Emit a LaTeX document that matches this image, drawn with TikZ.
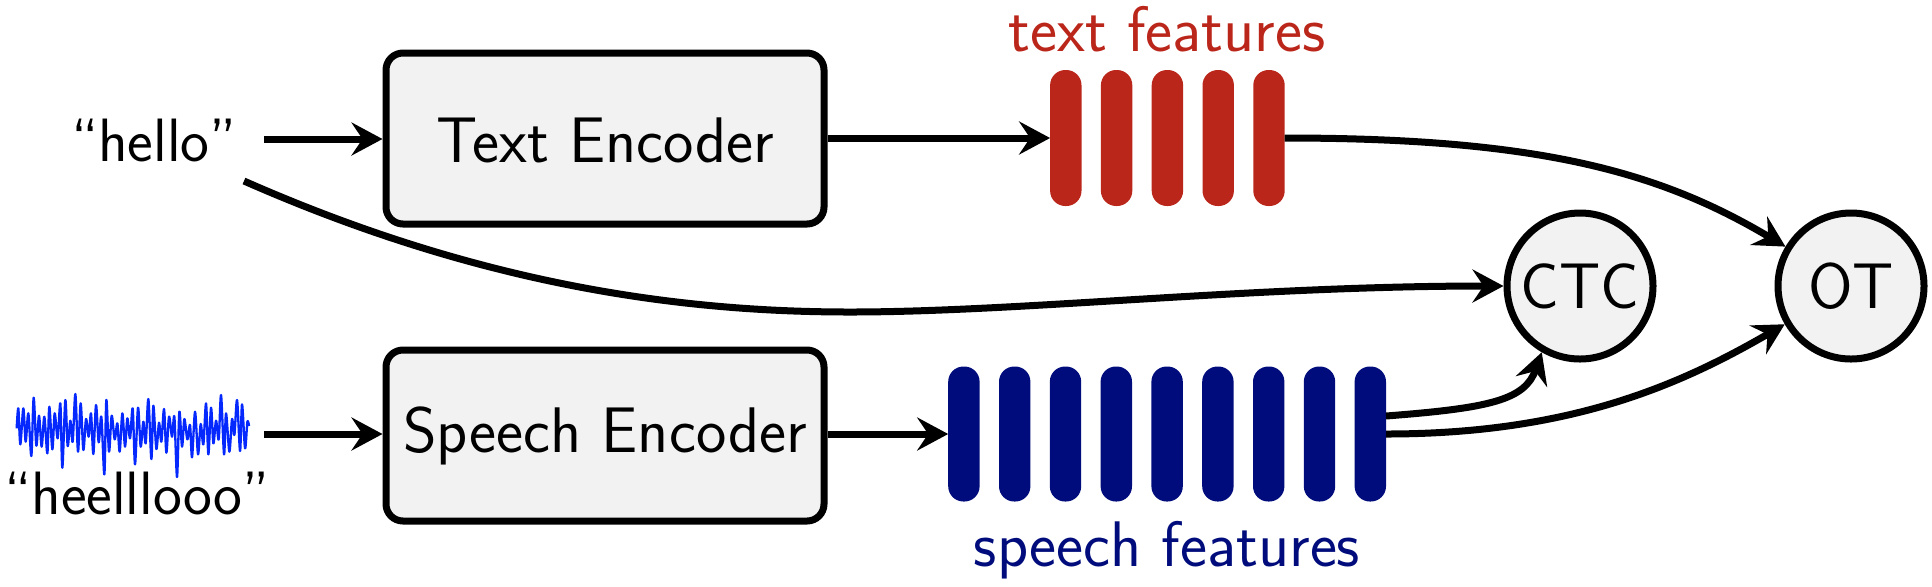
\documentclass[tikz,border=0pt]{standalone}
\usepackage{tikz}
\usetikzlibrary{arrows.meta}
\definecolor{textred}{RGB}{187,38,26}
\definecolor{speechblue}{RGB}{0,12,123}
\definecolor{wavecol}{RGB}{5,40,255}
\definecolor{boxgray}{RGB}{242,242,242}
\tikzset{
  enc/.style={draw,line width=3.5pt,fill=boxgray,rounded corners=8.5pt,minimum width=219pt,minimum height=85.5pt,inner sep=0pt},
  op/.style={draw,circle,line width=3.5pt,fill=boxgray,minimum size=73pt,inner sep=0pt},
  tbar/.style={fill=textred,rounded corners=7.6pt,minimum width=15.7pt,minimum height=68pt,inner sep=0pt,outer sep=0pt},
  sbar/.style={fill=speechblue,rounded corners=7.6pt,minimum width=15.7pt,minimum height=67.5pt,inner sep=0pt,outer sep=0pt},
  lab/.style={font=\sffamily\fontsize{32.2}{38}\selectfont},
  side/.style={font=\sffamily\fontsize{30.6}{36}\selectfont},
  link/.style={line width=3.5pt,-{Stealth[length=15.5pt,width=16.5pt,inset=5.5pt]}}
}
\begin{document}
\begin{tikzpicture}[x=0.5pt,y=-0.5pt]
  \useasboundingbox (0,0) rectangle (1932,586);
%First row
  \node[side] (Hello) at (154,140) {``hello''};
  \node[enc,lab,text height=24.7pt] (TE) at (605,138.5) {Text Encoder};
  \coordinate (HelloOut) at (264,139);
  \coordinate (HelloCurve) at (244,181);
  \coordinate (HelloLow) at (850,312);
% text features
  \node[tbar] (T1) at (1065.8,138) {};
  \node[tbar] (T2) at (1116.6,138) {};
  \node[tbar] (T3) at (1167.4,138) {};
  \node[tbar] (T4) at (1218.2,138) {};
  \node[tbar] (T5) at (1269,138) {};
  \node[lab,text=textred] (TF) at (1167,29) {text features};
%Second row
  \node[side] (Heard) at (137,493) {``heelllooo''};
  \node[enc,lab] (SE) at (605,435.5) {Speech Encoder};
  \coordinate (WaveOut) at (264,434);
% speech features
  \node[sbar] (S1) at (963.9,434) {};
  \node[sbar] (S2) at (1014.7,434) {};
  \node[sbar] (S3) at (1065.5,434) {};
  \node[sbar] (S4) at (1116.3,434) {};
  \node[sbar] (S5) at (1167.1,434) {};
  \node[sbar] (S6) at (1217.9,434) {};
  \node[sbar] (S7) at (1268.7,434) {};
  \node[sbar] (S8) at (1319.5,434) {};
  \node[sbar] (S9) at (1370.3,434) {};
  \node[lab,text=speechblue] (SF) at (1167,550) {speech features};
  \coordinate (S9Up) at (1386,416);
%Losses
  \node[op,lab] (CTC) at (1580,286) {CTC};
  \node[op,lab] (OT) at (1851,286) {OT};
% waveform
  \begin{scope}[shift={(10,385)},x=0.1667pt,y=-0.1667pt]
    \draw[wavecol,line width=1.15pt,line join=round] plot[smooth,tension=0.5] coordinates {
      (20,130) (25,70) (31,178) (40,70) (47,170) (55,85) (64,213) (71,38) (79,182) (87,92)
      (95,185) (103,95) (112,205) (118,65) (127,193) (134,85) (143,160) (151,55) (157,248) (166,45)
      (173,183) (181,107) (188,170) (196,27) (204,200) (212,55) (220,195) (228,102) (236,155) (243,85)
      (250,207) (258,60) (266,172) (274,95) (283,268) (289,45) (297,200) (305,92) (314,163) (322,115)
      (329,200) (337,85) (345,185) (352,100) (360,160) (368,70) (375,238) (384,68) (392,185) (400,110)
      (407,175) (415,42) (424,222) (430,62) (439,192) (447,113) (454,170) (462,72) (469,203) (477,95)
      (486,155) (493,95) (501,276) (508,80) (516,185) (523,102) (532,163) (540,120) (546,217) (555,80)
      (564,208) (572,117) (580,178) (588,55) (595,208) (603,68) (610,175) (618,107) (626,163) (633,30)
      (642,208) (648,85) (658,200) (666,102) (673,150) (681,45) (690,198) (696,58) (705,190) (712,110)
      (717,123)};
  \end{scope}
% bonds
  \draw[link] (HelloOut) -- (TE.west |- HelloOut);
  \draw[link] (TE.east |- T1) -- (T1);
  \draw[link] (WaveOut) -- (SE.west |- WaveOut);
  \draw[link] (SE.east |- S1) -- (S1);
  \draw[link] (HelloCurve) .. controls (480,285) and (680,312) .. (HelloLow)
    .. controls (1020,312) and (1250,286) .. (CTC.west);
  \draw[link] (T5.east) .. controls (1540,138) and (1660,172) .. (OT.149);
  \draw[link] (S9Up) .. controls (1490,408) and (1525,400) .. (CTC.240);
  \draw[link] (S9.east) .. controls (1570,434) and (1680,385) .. (OT.210);
\end{tikzpicture}
\end{document}
